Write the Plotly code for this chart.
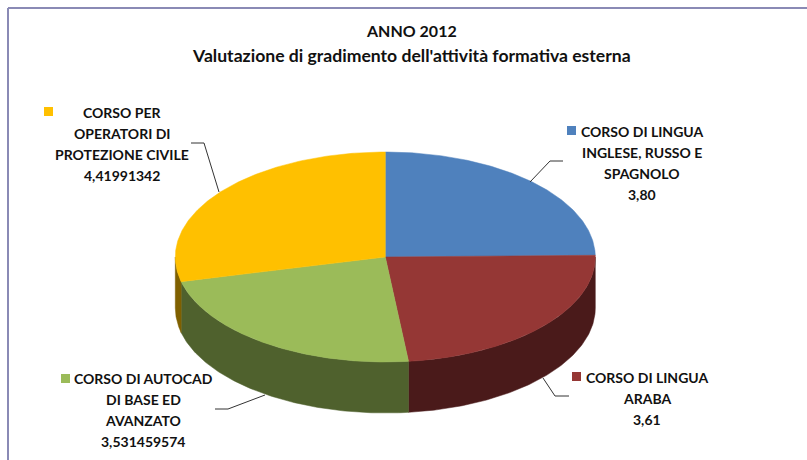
import numpy as np
import plotly.graph_objects as go

categories = ["CORSO DI LINGUA INGLESE, RUSSO E SPAGNOLO", "CORSO DI LINGUA ARABA",
              "CORSO DI AUTOCAD DI BASE ED AVANZATO", "CORSO PER OPERATORI DI PROTEZIONE CIVILE"]
values = [3.80, 3.61, 3.531459574, 4.41991342]
value_labels = ["3,80", "3,61", "3,531459574", "4,41991342"]
top_colors = ["#4f81bd", "#953735", "#9bbb59", "#ffc000"]
side_colors = ["#2c4d75", "#4a1a1a", "#4f612d", "#7f6000"]
title_lines = ["ANNO 2012", "Valutazione di gradimento dell'attività formativa esterna"]
title_sizes = [16, 17.6]

label_lines = [
    ["CORSO DI LINGUA", "INGLESE, RUSSO E", "SPAGNOLO", "3,80"],
    ["CORSO DI LINGUA", "ARABA", "3,61"],
    ["CORSO DI AUTOCAD", "DI BASE ED", "AVANZATO", "3,531459574"],
    ["CORSO PER", "OPERATORI DI", "PROTEZIONE CIVILE", "4,41991342"],
]
label_cx = [642, 647, 143, 122]
label_y0 = [131, 377, 378, 112]
line_gap = 21.2
swatches = [(571.5, 130.5), (576.5, 376.5), (65.5, 378.5), (48.5, 111.5)]
leaders = [
    ([563, 550, 530], [161, 161, 182]),
    ([569, 555, 543], [396, 396, 378]),
    ([215, 228, 265], [409, 409, 395]),
    ([191, 204, 219], [143, 143, 192]),
]

CX, CY, RX, RY, DEPTH = 385.3, 257, 210, 105, 51
FONT = "Lato"

def ell(t, dy=0):
    return CX + RX * np.sin(t), CY - RY * np.cos(t) + dy

fig = go.Figure()
fr = np.array(values) / sum(values)
edges = np.concatenate([[0], np.cumsum(fr)]) * 2 * np.pi

# side walls (front half of the ellipse only)
for i in range(4):
    a, b = max(edges[i], np.pi / 2), min(edges[i + 1], 3 * np.pi / 2)
    if b <= a:
        continue
    t = np.linspace(a, b, 120)
    x1, y1 = ell(t)
    x2, y2 = ell(t[::-1], DEPTH)
    fig.add_trace(go.Scatter(x=np.r_[x1, x2, x1[0]], y=np.r_[y1, y2, y1[0]], mode="lines",
                             fill="toself", fillcolor=side_colors[i],
                             line=dict(width=0.5, color=side_colors[i]), hoverinfo="skip"))

# top faces
for i in range(4):
    t = np.linspace(edges[i], edges[i + 1], 160)
    x, y = ell(t)
    fig.add_trace(go.Scatter(x=np.r_[CX, x, CX], y=np.r_[CY, y, CY], mode="lines",
                             fill="toself", fillcolor=top_colors[i],
                             line=dict(width=0.5, color=top_colors[i]),
                             name=categories[i], text=value_labels[i], hoverinfo="name+text"))

# leader lines
for lx, ly in leaders:
    fig.add_trace(go.Scatter(x=lx, y=ly, mode="lines", line=dict(color="#333333", width=1), hoverinfo="skip"))

# legend keys
fig.add_trace(go.Scatter(x=[s[0] for s in swatches], y=[s[1] for s in swatches], mode="markers",
                         marker=dict(symbol="square", size=9, color=top_colors, line=dict(width=0)),
                         hoverinfo="skip"))

ann = []
for ln, y, sz in zip(title_lines, [30, 55], title_sizes):
    ann.append(dict(x=411, y=y, text=f"<b>{ln}</b>", showarrow=False, xanchor="center", yanchor="middle",
                    font=dict(family=FONT, size=sz, color="#111111")))
for lines, cx, y0 in zip(label_lines, label_cx, label_y0):
    for k, ln in enumerate(lines):
        ann.append(dict(x=cx, y=y0 + k * line_gap, text=f"<b>{ln}</b>", showarrow=False,
                        xanchor="center", yanchor="middle",
                        font=dict(family=FONT, size=14, color="#111111")))

frame = dict(type="line", line=dict(color="#8a8ab5", width=2))
shapes = [dict(x0=8, x1=8, y0=8, y1=460, **frame), dict(x0=8, x1=807, y0=8, y1=8, **frame)]

fig.update_layout(width=807, height=460, margin=dict(l=0, r=0, t=0, b=0), showlegend=False,
                  paper_bgcolor="white", plot_bgcolor="white", annotations=ann, shapes=shapes,
                  xaxis=dict(range=[0, 807], visible=False, fixedrange=True),
                  yaxis=dict(range=[460, 0], visible=False, fixedrange=True))
fig.write_html("out.html", config=dict(displayModeBar=False),
               post_script="document.body.style.margin='0';document.documentElement.style.overflow='hidden';")
